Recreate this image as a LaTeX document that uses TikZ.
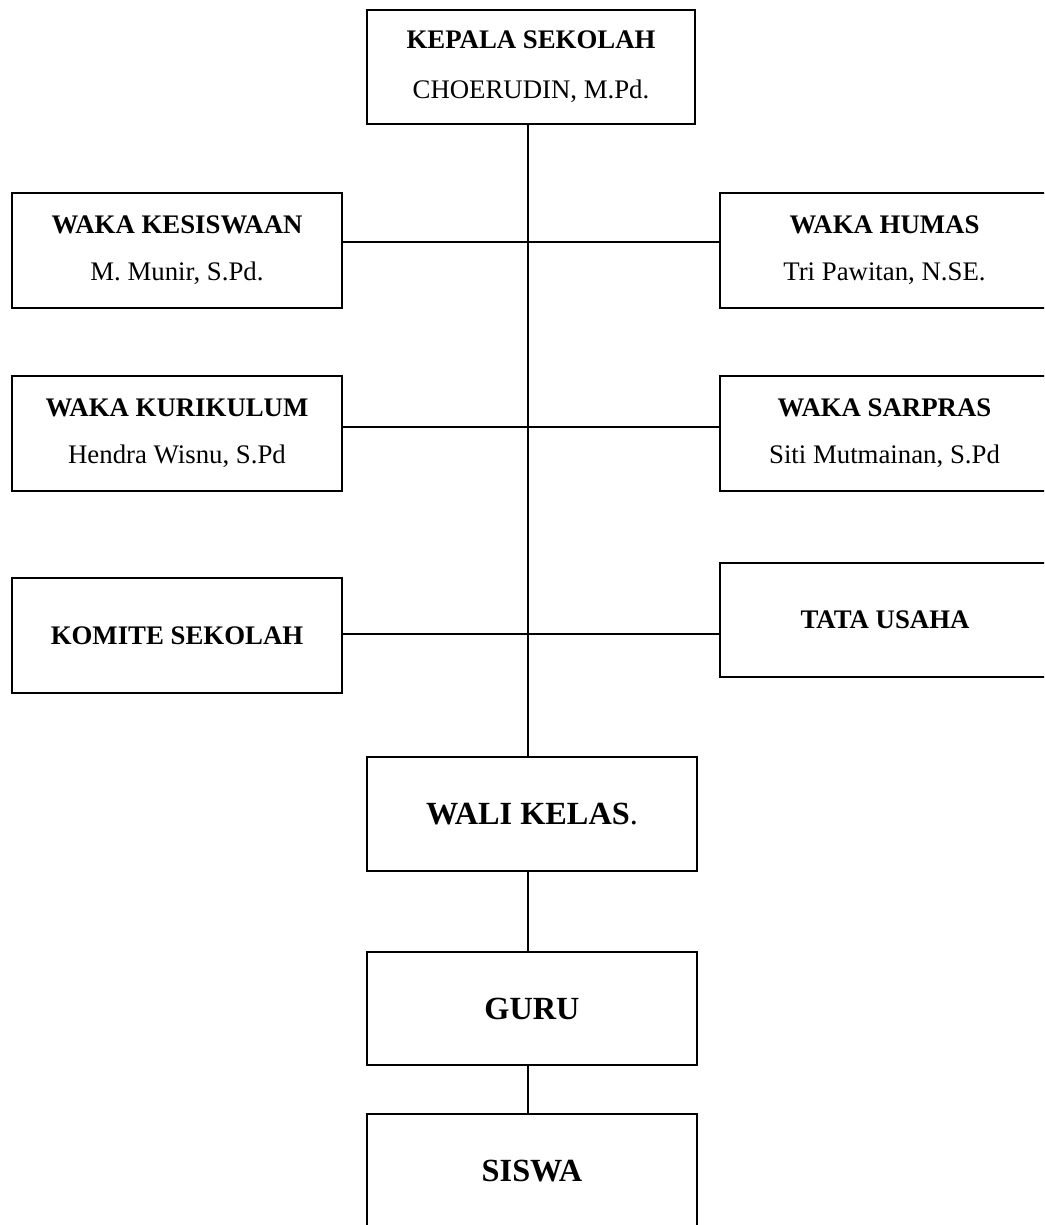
\documentclass[tikz,border=0pt]{standalone}
\usepackage{fontspec}
\setmainfont{Liberation Serif}
\begin{document}
\begin{tikzpicture}[x=1pt,y=-1pt,
  orgbox/.style={draw, line width=2pt, minimum width=330pt, minimum height=115pt,
    inner sep=0pt, align=center, font=\fontsize{26.8}{32}\selectfont},
  bigbox/.style={orgbox, font=\fontsize{32.3}{38}\selectfont},
  conn/.style={line width=1.3pt}]
\useasboundingbox (0,0) rectangle (1044,1225);
\clip (0,0) rectangle (1044,1225);
% spine and connector levels
\coordinate (sp) at (528,0);
\coordinate (r1) at (528,242);
\coordinate (r2) at (528,427);
\coordinate (r3) at (528,634);
% boxes
\node[orgbox, minimum width=328pt, minimum height=114pt] (kepala) at (531,67)
  {\textbf{KEPALA SEKOLAH}\\[18pt]CHOERUDIN, M.Pd.};
\node[orgbox] (kesiswaan) at (177,250.5)
  {\textbf{WAKA KESISWAAN}\\[15pt]M. Munir, S.Pd.};
\node[orgbox] (humas) at (884.5,250.5)
  {\textbf{WAKA HUMAS}\\[15pt]Tri Pawitan, N.SE.};
\node[orgbox] (kurikulum) at (177,433.5)
  {\textbf{WAKA KURIKULUM}\\[15pt]Hendra Wisnu, S.Pd};
\node[orgbox] (sarpras) at (884.5,433)
  {\textbf{WAKA SARPRAS}\\[15pt]Siti Mutmainan, S.Pd};
\node[orgbox] (komite) at (177,635.5) {\textbf{KOMITE SEKOLAH}};
\node[orgbox, minimum height=114pt] (tu) at (885,620) {\textbf{TATA USAHA}};
\node[bigbox, minimum height=114pt] (wali) at (532,814) {\textbf{WALI KELAS}.};
\node[bigbox, minimum height=113pt] (guru) at (532,1008.5) {\textbf{GURU}};
\node[bigbox, minimum height=114pt] (siswa) at (532,1171) {\textbf{SISWA}};
% connectors
\draw[conn] (kepala.south -| sp) -- (wali.north -| sp);
\draw[conn] (kesiswaan.east |- r1) -- (humas.west |- r1);
\draw[conn] (kurikulum.east |- r2) -- (sarpras.west |- r2);
\draw[conn] (komite.east |- r3) -- (tu.west |- r3);
\draw[conn] (wali.south -| sp) -- (guru.north -| sp);
\draw[conn] (guru.south -| sp) -- (siswa.north -| sp);
\end{tikzpicture}
\end{document}
